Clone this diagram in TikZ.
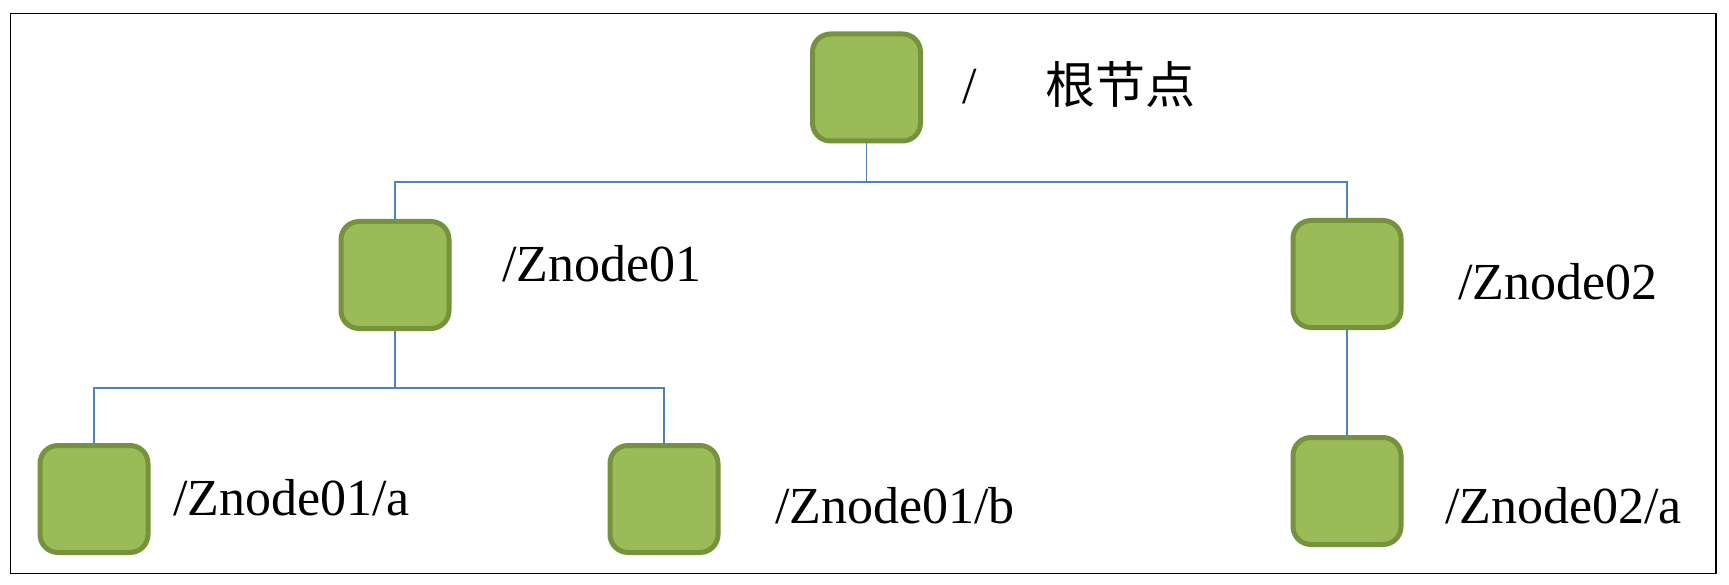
\documentclass[tikz,border=0pt]{standalone}
\usepackage{fontspec}
\setmainfont{Liberation Serif}
\newfontfamily\cjk{Noto Sans CJK SC}
\definecolor{boxfill}{HTML}{9BBB59}
\definecolor{boxline}{HTML}{76923C}
\definecolor{connblue}{HTML}{4F81BD}
\begin{document}
\begin{tikzpicture}[x=1pt,y=-1pt,
  tbox/.style={draw=boxline, fill=boxfill, line width=5pt, rounded corners=18pt,
               minimum width=108pt, minimum height=107pt, inner sep=0pt},
  wire/.style={draw=connblue, line width=1.6pt},
  lbl/.style={anchor=base west, inner sep=0pt, font=\fontsize{52}{60}\selectfont}]
\useasboundingbox (0,0) rectangle (1729,585);
\draw[line width=1.8pt] (10.5,13.5) rectangle (1716,573.5);

\node[tbox] (r)   at (866.5,87.5) {};
\node[tbox] (n1)  at (395,275) {};
\node[tbox] (n2)  at (1347,274) {};
\node[tbox] (n1a) at (94,499) {};
\node[tbox] (n1b) at (664,499) {};
\node[tbox] (n2a) at (1347,491) {};

\coordinate (bus1) at (866.5,182);
\coordinate (bus2) at (395,388);

\draw[wire] (r.south) -- (bus1);
\draw[wire] (n1.north) |- (bus1) -| (n2.north);
\draw[wire] (n1.south) -- (bus2);
\draw[wire] (n1a.north) |- (bus2) -| (n1b.north);
\draw[wire] (n2.south) -- (n2a.north);

\node[lbl] (lr) at (962,104) {/\hspace{69pt}{\cjk\fontsize{50}{60}\selectfont 根节点}};
\node[lbl] (l1) at (502,282) {/Znode01};
\node[lbl] (l2) at (1458,300) {/Znode02};
\node[lbl] (l1a) at (173,515) {/Znode01/a};
\node[lbl] (l1b) at (775,523) {/Znode01/b};
\node[lbl] (l2a) at (1445,523) {/Znode02/a};
\end{tikzpicture}
\end{document}
